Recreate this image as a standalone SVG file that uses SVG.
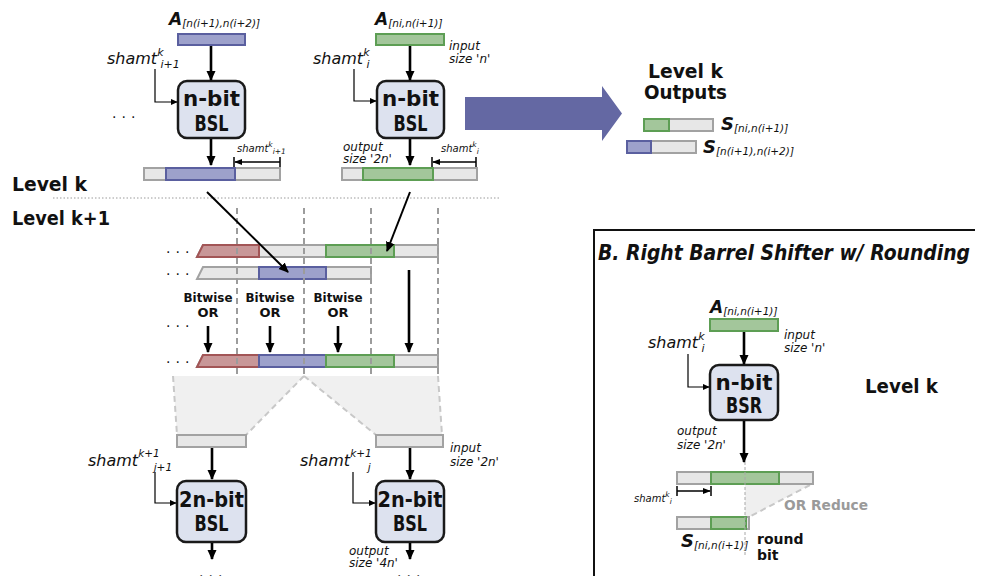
<svg xmlns="http://www.w3.org/2000/svg" width="981" height="576" viewBox="0 0 981 576">
<style>
text{font-family:"DejaVu Sans","Liberation Sans",sans-serif;fill:#111}
.b{font-weight:bold}
.bi{font-weight:bold;font-style:italic}
.sub{font-weight:normal;font-style:italic;font-size:10.5px}
.sh{font-style:italic;font-size:16px}
.sm{font-style:italic;font-size:12px}
.tiny{font-style:italic;font-size:10px}
.g{fill:#e7e7e7;stroke:#a2a2a2;stroke-width:2}
.bl{fill:#9da1cb;stroke:#5a5f9f;stroke-width:2}
.gr{fill:#a3c69b;stroke:#5d9e54;stroke-width:2}
.rd{fill:#c89798;stroke:#a25556;stroke-width:2}
.box{fill:#dde2ef;stroke:#1a1a1a;stroke-width:2.5}
.bt{font-weight:bold;font-size:21px;text-anchor:middle}
.arr{stroke:#000;stroke-width:2.6;fill:none;marker-end:url(#ah)}
.feed{stroke:#000;stroke-width:1.2;fill:none;marker-end:url(#ahs)}
.dim{stroke:#000;stroke-width:1.5;fill:none}
.dima{stroke:#000;stroke-width:1.5;fill:none;marker-end:url(#ahd)}
.dash{stroke:#9c9c9c;stroke-width:2;stroke-dasharray:6 4;fill:none}
.trap{fill:#f0f0f0;stroke:none}
.tedge{stroke:#c8c8c8;stroke-width:2;stroke-dasharray:6 4;fill:none}
.dots{font-size:14px;letter-spacing:5px}
.lv{font-weight:bold;font-size:20px}
.bw{font-weight:bold;font-size:13px;text-anchor:middle}
</style>
<defs>
<marker id="ah" viewBox="0 0 10 10" refX="9" refY="5" markerWidth="10" markerHeight="10" markerUnits="userSpaceOnUse" orient="auto"><path d="M0,0.5 L10,5 L0,9.5 z" fill="#000"/></marker>
<marker id="ahs" viewBox="0 0 10 10" refX="9" refY="5" markerWidth="7" markerHeight="7" markerUnits="userSpaceOnUse" orient="auto"><path d="M0,0.5 L10,5 L0,9.5 z" fill="#000"/></marker>
<marker id="ahd" viewBox="0 0 10 10" refX="9" refY="5" markerWidth="8" markerHeight="8" markerUnits="userSpaceOnUse" orient="auto"><path d="M0,1 L10,5 L0,9 z" fill="#000"/></marker>
</defs>

<!-- separator -->
<line x1="53" y1="198" x2="500" y2="198" stroke="#9a9a9a" stroke-width="1" stroke-dasharray="1.5 2"/>
<text class="lv" x="12" y="191" textLength="75" lengthAdjust="spacingAndGlyphs">Level k</text>
<text class="lv" x="12" y="225" textLength="98" lengthAdjust="spacingAndGlyphs">Level k+1</text>

<!-- Column 1, level k -->
<g id="inA1">
<text x="169" y="25" class="bi" font-size="17">A<tspan class="sub" dy="2">[n(i+1),n(i+2)]</tspan></text>
<rect class="bl" x="178" y="34" width="67" height="11"/>
</g>
<g id="bsl1">
<rect class="box" x="178" y="81" width="67" height="57" rx="9"/>
<text class="bt" x="211.5" y="106" textLength="57" lengthAdjust="spacingAndGlyphs">n-bit</text>
<text class="bt" x="211.5" y="131" textLength="34" lengthAdjust="spacingAndGlyphs">BSL</text>
</g>
<g id="sh1">
<text class="sh" x="107" y="64">shamt<tspan font-size="11" dy="-8">k</tspan><tspan font-size="11" dx="-3" dy="12">i+1</tspan></text>
</g>
<text class="dots" x="112" y="118">...</text>
<g id="out1">
<rect class="g" x="144" y="168" width="136" height="12"/>
<rect class="bl" x="166" y="168" width="69" height="12"/>
<text class="tiny" x="237" y="152">shamt<tspan font-size="7.5" dy="-5">k</tspan><tspan font-size="7.5" dy="7">i+1</tspan></text>
</g>

<!-- Column 2, level k -->
<g id="inA2">
<text x="375" y="25" class="bi" font-size="17">A<tspan class="sub" dy="2">[ni,n(i+1)]</tspan></text>
<rect class="gr" x="376" y="34" width="68" height="11"/>
<text class="sm" x="449" y="50">input</text>
<text class="sm" x="449" y="63">size 'n'</text>
</g>
<g id="bsl2">
<rect class="box" x="377" y="81" width="67" height="57" rx="9"/>
<text class="bt" x="410.5" y="106" textLength="57" lengthAdjust="spacingAndGlyphs">n-bit</text>
<text class="bt" x="410.5" y="131" textLength="34" lengthAdjust="spacingAndGlyphs">BSL</text>
</g>
<g id="sh2">
<text class="sh" x="313" y="64">shamt<tspan font-size="11" dy="-8">k</tspan><tspan font-size="11" dx="-3" dy="12">i</tspan></text>
</g>
<g id="out2">
<text class="sm" x="343" y="151" font-size="12.5">output</text>
<text class="sm" x="343" y="163" font-size="12.5">size '2n'</text>
<rect class="g" x="342" y="168" width="135" height="12"/>
<rect class="gr" x="363" y="168" width="70" height="12"/>
<text class="tiny" x="441" y="152">shamt<tspan font-size="7.5" dy="-5">k</tspan><tspan font-size="7.5" dy="7">i</tspan></text>
</g>

<!-- big arrow and outputs -->
<polygon id="bigArrow" points="465,97 602,97 602,86 622,113.5 602,141 602,130 465,130" fill="#6468a3"/>
<g id="outputs">
<text class="b" x="685.5" y="78" font-size="20" text-anchor="middle" textLength="75" lengthAdjust="spacingAndGlyphs">Level k</text>
<text class="b" x="685.5" y="99" font-size="20" text-anchor="middle" textLength="83" lengthAdjust="spacingAndGlyphs">Outputs</text>
<rect class="g" x="644" y="119" width="69" height="12"/>
<rect class="gr" x="644" y="119" width="25" height="12"/>
<text x="721" y="130" class="bi" font-size="18">S<tspan class="sub" dy="2">[ni,n(i+1)]</tspan></text>
<rect class="g" x="627" y="141" width="69" height="12"/>
<rect class="bl" x="627" y="141" width="24" height="12"/>
<text x="703" y="153" class="bi" font-size="18">S<tspan class="sub" dy="2">[n(i+1),n(i+2)]</tspan></text>
</g>

<!-- Level k+1 combine rows -->
<g id="row1">
<polygon class="g" points="203,245 438,245 438,257 197,257"/>
<polygon class="rd" points="203,245 259,245 259,257 197,257"/>
<rect class="gr" x="326" y="245" width="68" height="12"/>
</g>
<g id="row2">
<polygon class="g" points="203,267 371,267 371,279 197,279"/>
<rect class="bl" x="259" y="267" width="67" height="12"/>
</g>
<g id="row3">
<polygon class="g" points="203,355 438,355 438,367 197,367"/>
<polygon class="rd" points="203,355 259,355 259,367 197,367"/>
<rect class="bl" x="259" y="355" width="67" height="12"/>
<rect class="gr" x="326" y="355" width="68" height="12"/>
</g>
<text class="dots" x="166" y="253">...</text>
<text class="dots" x="166" y="275">...</text>
<text class="dots" x="166" y="327">...</text>
<text class="dots" x="166" y="363">...</text>

<g id="or1"><text class="bw" x="208" y="302" textLength="49" lengthAdjust="spacingAndGlyphs">Bitwise</text><text class="bw" x="208" y="317">OR</text></g>
<g id="or2"><text class="bw" x="270" y="302" textLength="49" lengthAdjust="spacingAndGlyphs">Bitwise</text><text class="bw" x="270" y="317">OR</text></g>
<g id="or3"><text class="bw" x="338" y="302" textLength="49" lengthAdjust="spacingAndGlyphs">Bitwise</text><text class="bw" x="338" y="317">OR</text></g>

<!-- trapezoids -->
<g id="split">
<polygon class="trap" points="173,376 304,376 246,435 177,435"/>
<polygon class="trap" points="304,376 438,376 442,435 376,435"/>
<line class="tedge" x1="173" y1="376" x2="177" y2="435"/>
<line class="tedge" x1="304" y1="376" x2="246" y2="435"/>
<line class="tedge" x1="304" y1="376" x2="376" y2="435"/>
<line class="tedge" x1="438" y1="376" x2="442" y2="435"/>
</g>

<g id="guides">
<line class="dash" x1="237" y1="208" x2="237" y2="377"/>
<line class="dash" x1="304" y1="208" x2="304" y2="377"/>
<line class="dash" x1="371" y1="208" x2="371" y2="377"/>
<line class="dash" x1="438" y1="208" x2="438" y2="377"/>
</g>

<!-- Level k+1 shifters -->
<g id="in3"><rect class="g" x="177" y="435" width="69" height="12"/></g>
<g id="in4">
<rect class="g" x="376" y="435" width="67" height="12"/>
<text class="sm" x="450" y="452">input</text>
<text class="sm" x="450" y="466">size '2n'</text>
</g>
<g id="bsl3">
<rect class="box" x="177" y="481" width="69" height="61" rx="9"/>
<text class="bt" x="211.5" y="507" font-size="20" textLength="65" lengthAdjust="spacingAndGlyphs">2n-bit</text>
<text class="bt" x="211.5" y="531" textLength="34" lengthAdjust="spacingAndGlyphs">BSL</text>
</g>
<g id="bsl4">
<rect class="box" x="376" y="481" width="68" height="61" rx="9"/>
<text class="bt" x="410" y="507" font-size="20" textLength="65" lengthAdjust="spacingAndGlyphs">2n-bit</text>
<text class="bt" x="410" y="531" textLength="34" lengthAdjust="spacingAndGlyphs">BSL</text>
</g>
<g id="sh3"><text class="sh" x="88" y="466" font-size="18.5">shamt<tspan font-size="10.5" dy="-9">k+1</tspan><tspan font-size="10.5" dx="-6" dy="14">j+1</tspan></text></g>
<g id="sh4"><text class="sh" x="300" y="466" font-size="18">shamt<tspan font-size="10.5" dy="-9">k+1</tspan><tspan font-size="10.5" dx="-4" dy="14">j</tspan></text></g>
<text class="sm" x="349" y="555" font-size="12.5">output</text>
<text class="sm" x="349" y="567" font-size="12.5">size '4n'</text>
<text class="dots" x="199" y="577" font-size="16">...</text>
<text class="dots" x="397" y="577" font-size="16">...</text>

<!-- Panel B -->
<g id="panelB">
<path d="M594,576 V230 H975" fill="none" stroke="#111" stroke-width="2"/>
<text x="598" y="260" font-family="Liberation Sans, Arial, sans-serif" font-weight="bold" font-style="italic" font-size="22" textLength="372" lengthAdjust="spacingAndGlyphs">B. Right Barrel Shifter w/ Rounding</text>
</g>
<g id="inB">
<text x="710" y="313" class="bi" font-size="17">A<tspan class="sub" dy="2">[ni,n(i+1)]</tspan></text>
<rect class="gr" x="710" y="319" width="68" height="12"/>
<text class="sm" x="784" y="339">input</text>
<text class="sm" x="784" y="352">size 'n'</text>
</g>
<g id="shB"><text class="sh" x="648" y="348">shamt<tspan font-size="11" dy="-8">k</tspan><tspan font-size="11" dx="-3" dy="12">i</tspan></text></g>
<g id="bsr">
<rect class="box" x="710" y="365" width="68" height="55" rx="9"/>
<text class="bt" x="744" y="390" textLength="57" lengthAdjust="spacingAndGlyphs">n-bit</text>
<text class="bt" x="744" y="413" textLength="36" lengthAdjust="spacingAndGlyphs">BSR</text>
</g>
<text class="b" x="865" y="393" font-size="20" textLength="73" lengthAdjust="spacingAndGlyphs">Level k</text>
<text class="sm" x="677" y="435" font-size="12.5">output</text>
<text class="sm" x="677" y="449" font-size="12.5">size '2n'</text>
<g id="reduce">
<polygon points="745,485 810,485 749,517 745,517" fill="#efefef"/>
<line x1="810" y1="485" x2="749" y2="517" stroke="#c8c8c8" stroke-width="2" stroke-dasharray="6 4"/>
<text class="b" x="784" y="510" font-size="14" style="fill:#9a9a9a" textLength="84" lengthAdjust="spacingAndGlyphs">OR Reduce</text>
</g>
<g id="outB">
<rect class="g" x="677" y="472" width="136" height="12"/>
<rect class="gr" x="711" y="472" width="68" height="12"/>
<text class="tiny" x="634" y="502">shamt<tspan font-size="7.5" dy="-5">k</tspan><tspan font-size="7.5" dy="7">i</tspan></text>
</g>
<g id="resB">
<rect class="g" x="677" y="517" width="72" height="12"/>
<rect class="gr" x="711" y="517" width="35" height="12"/>
<text x="681" y="547" class="bi" font-size="18">S<tspan class="sub" dy="2">[ni,n(i+1)]</tspan></text>
<text class="b" x="757" y="544" font-size="14">round</text>
<text class="b" x="757" y="560" font-size="14">bit</text>
</g>
<line x1="745" y1="462" x2="745" y2="555" stroke="#a8a8a8" stroke-width="1" stroke-dasharray="3 2"/>

<!-- connectors -->
<g id="connectors">
<line class="arr" x1="211" y1="46" x2="211" y2="80"/>
<line class="arr" x1="410" y1="46" x2="410" y2="80"/>
<polyline class="feed" points="155,69 155,102 177,102"/>
<polyline class="feed" points="354,69 354,101 376,101"/>
<line class="arr" x1="211" y1="139" x2="211" y2="165"/>
<line class="arr" x1="410" y1="139" x2="410" y2="165"/>
<line class="dima" x1="280" y1="162" x2="235" y2="162"/>
<line class="dim" x1="234" y1="157" x2="234" y2="167"/>
<line class="dim" x1="280" y1="157" x2="280" y2="167"/>
<line class="dima" x1="476" y1="162" x2="433" y2="162"/>
<line class="dim" x1="432" y1="157" x2="432" y2="167"/>
<line class="dim" x1="476" y1="157" x2="476" y2="167"/>
<line stroke="#000" stroke-width="2" marker-end="url(#ah)" x1="207" y1="192" x2="288" y2="272"/>
<line stroke="#000" stroke-width="2" marker-end="url(#ah)" x1="410" y1="192" x2="387" y2="251"/>
<line class="arr" x1="208" y1="326" x2="208" y2="352"/>
<line class="arr" x1="270" y1="326" x2="270" y2="352"/>
<line class="arr" x1="338" y1="326" x2="338" y2="352"/>
<line class="arr" x1="409" y1="270" x2="409" y2="352"/>
<line class="arr" x1="212" y1="448" x2="212" y2="479"/>
<line class="arr" x1="410" y1="448" x2="410" y2="479"/>
<polyline class="feed" points="155,472 155,503 176,503"/>
<polyline class="feed" points="353,472 353,503 375,503"/>
<line class="arr" x1="212" y1="543" x2="212" y2="559"/>
<line class="arr" x1="410" y1="543" x2="410" y2="559"/>
<line class="arr" x1="744" y1="332" x2="744" y2="364"/>
<polyline class="feed" points="688,354 688,387 709,387"/>
<line class="arr" x1="744" y1="421" x2="744" y2="462"/>
<line class="dima" x1="677" y1="491" x2="710" y2="491"/>
<line class="dim" x1="677" y1="486" x2="677" y2="496"/>
<line class="dim" x1="711" y1="486" x2="711" y2="496"/>
</g>
</svg>
